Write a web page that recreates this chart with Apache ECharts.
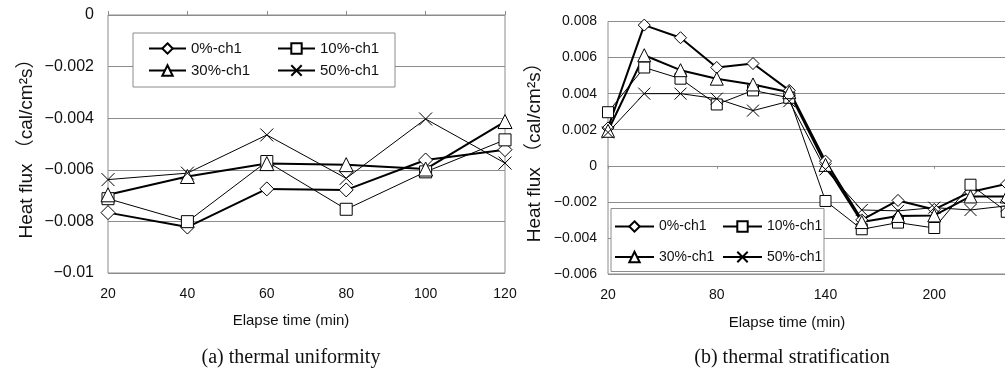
<!DOCTYPE html>
<html>
<head>
<meta charset="utf-8">
<script src="https://cdn.jsdelivr.net/npm/echarts@6/dist/echarts.min.js"></script>
<style>
  html, body { margin: 0; padding: 0; background: #fff; }
  #chart { width: 1005px; height: 372px; }
</style>
</head>
<body>
<div id="chart"></div>
<script>
// (a) thermal uniformity
var uniTimes = ['20', '40', '60', '80', '100', '120'];
var uni0  = [-0.00766, -0.00822, -0.00674, -0.00678, -0.00562, -0.00522];
var uni10 = [-0.00712, -0.00801, -0.00568, -0.00753, -0.00608, -0.00484];
var uni30 = [-0.00697, -0.00626, -0.00576, -0.00580, -0.00597, -0.00413];
var uni50 = [-0.00638, -0.00613, -0.00465, -0.00633, -0.00403, -0.00574];

// (b) thermal stratification (last category has no visible data)
var strTimes = ['20', '40', '60', '80', '100', '120', '140', '160', '180', '200', '220', '240', '260'];
var str0  = [0.00210, 0.00780, 0.00710, 0.00545, 0.00567, 0.00418, 0.00026, -0.00300, -0.00192, -0.00242, -0.00145, -0.00100];
var str10 = [0.00297, 0.00545, 0.00483, 0.00340, 0.00418, 0.00377, -0.00195, -0.00352, -0.00315, -0.00345, -0.00105, -0.00255];
var str30 = [0.00194, 0.00613, 0.00530, 0.00483, 0.00451, 0.00408, 0.00005, -0.00312, -0.00278, -0.00275, -0.00170, -0.00170];
var str50 = [0.00185, 0.00400, 0.00400, 0.00372, 0.00306, 0.00358, -0.00020, -0.00245, -0.00250, -0.00232, -0.00245, -0.00222];

var seriesNames = ['0%-ch1', '10%-ch1', '30%-ch1', '50%-ch1'];

var GRAY = '#8c8c8c';
var TXT = '#111';
var FONT = '"Liberation Sans", Arial, "Noto Sans CJK JP", sans-serif';
var CROSS = 'path://M0 0L10 10M10 0L0 10';

function fmtY(v) {
  if (Math.abs(v) < 1e-9) return '0';
  var s = parseFloat(Math.abs(v).toFixed(4)).toString();
  return (v < 0 ? '\u2212' : '') + s;
}

function mkSeries(name, data, gi, symbol, size, thick) {
  return {
    name: name, type: 'line', data: data,
    xAxisIndex: gi === 0 ? 0 : 1, yAxisIndex: gi,
    symbol: symbol, symbolSize: size, showAllSymbol: true,
    lineStyle: { color: '#000', width: thick ? 2 : 1 },
    itemStyle: symbol === CROSS
      ? { color: '#000', borderColor: '#000', borderWidth: 1 }
      : { color: '#fff', borderColor: '#000', borderWidth: 1 },
    emphasis: { disabled: true }
  };
}

function mkLegend(names, left, top, iw, gap, fs) {
  return {
    orient: 'vertical', left: left, top: top, padding: 0,
    itemWidth: iw, itemHeight: 13, itemGap: gap,
    data: names, selectedMode: false, z: 6,
    textStyle: { color: TXT, fontSize: fs, fontFamily: FONT, lineHeight: 18 }
  };
}

var chart = echarts.init(document.getElementById('chart'));
chart.setOption({
  animation: false,
  backgroundColor: '#fff',
  grid: [
    { left: 108, top: 15, width: 397, height: 258, show: true, borderColor: GRAY, borderWidth: 1,
      outerBoundsMode: 'none', containLabel: false },
    { left: 608, top: 21.5, width: 435, height: 252.5, show: true, borderColor: GRAY, borderWidth: 1,
      outerBoundsMode: 'none', containLabel: false }
  ],
  xAxis: [
    {
      gridIndex: 0, type: 'category', data: uniTimes, boundaryGap: false,
      axisLine: { show: false },
      axisTick: { show: true, inside: true, length: 4, lineStyle: { color: GRAY } },
      axisLabel: { color: TXT, fontSize: 14, fontFamily: FONT, margin: 14 },
      splitLine: { show: false },
      name: 'Elapse time (min)', nameLocation: 'middle', nameGap: 40,
      nameTextStyle: { color: TXT, fontSize: 15, fontFamily: FONT, padding: [0, 31, 0, 0] }
    },
    {
      gridIndex: 1, type: 'category', data: strTimes, boundaryGap: false,
      position: 'bottom',
      axisLine: { show: false, onZero: false },
      axisTick: { show: false },
      axisLabel: { color: TXT, fontSize: 14, fontFamily: FONT, margin: 14, interval: 2 },
      splitLine: { show: false },
      name: 'Elapse time (min)', nameLocation: 'middle', nameGap: 41,
      nameTextStyle: { color: TXT, fontSize: 15, fontFamily: FONT, padding: [0, 77, 0, 0] }
    },
    {
      gridIndex: 1, type: 'category', data: strTimes, boundaryGap: false,
      position: 'bottom',
      axisLine: { show: true, onZero: true, lineStyle: { color: GRAY } },
      axisTick: { show: true, interval: 2, length: 3, lineStyle: { color: GRAY } },
      axisLabel: { show: false },
      splitLine: { show: false }
    }
  ],
  yAxis: [
    {
      gridIndex: 0, type: 'value', min: -0.01, max: 0, interval: 0.002,
      axisLine: { show: false }, axisTick: { show: false },
      axisLabel: { color: TXT, fontSize: 16, fontFamily: FONT, margin: 14, formatter: fmtY },
      splitLine: { lineStyle: { color: GRAY, width: 1 } },
      name: 'Heat flux （cal/cm²s）', nameLocation: 'middle', nameGap: 72,
      nameTextStyle: { color: TXT, fontSize: 19, fontFamily: FONT }
    },
    {
      gridIndex: 1, type: 'value', min: -0.006, max: 0.008, interval: 0.002,
      axisLine: { show: false }, axisTick: { show: false },
      axisLabel: { color: TXT, fontSize: 14, fontFamily: FONT, margin: 11, formatter: fmtY },
      splitLine: { lineStyle: { color: GRAY, width: 1 } },
      name: 'Heat flux （cal/cm²s）', nameLocation: 'middle', nameGap: 64,
      nameTextStyle: { color: TXT, fontSize: 19, fontFamily: FONT }
    }
  ],
  legend: [
    mkLegend([seriesNames[0], seriesNames[2]], 148, 39.5, 37, 4, 15),
    mkLegend([seriesNames[1], seriesNames[3]], 277, 39.5, 37, 4, 15),
    mkLegend([seriesNames[0], seriesNames[2]], 614, 217.5, 39, 12.5, 14),
    mkLegend([seriesNames[1], seriesNames[3]], 722, 217.5, 39, 12.5, 14)
  ],
  graphic: [
    { type: 'rect', z: 5, shape: { x: 133, y: 33, width: 262, height: 54 },
      style: { fill: '#fff', stroke: GRAY, lineWidth: 1 } },
    { type: 'rect', z: 5, shape: { x: 611, y: 208.5, width: 213, height: 63 },
      style: { fill: '#fff', stroke: GRAY, lineWidth: 1 } },
    { type: 'text', x: 291, y: 358,
      style: { text: '(a) thermal uniformity', fill: TXT, font: '20px "Liberation Serif", "Times New Roman", serif', align: 'center', verticalAlign: 'middle' } },
    { type: 'text', x: 792, y: 358,
      style: { text: '(b) thermal stratification', fill: TXT, font: '20px "Liberation Serif", "Times New Roman", serif', align: 'center', verticalAlign: 'middle' } }
  ],
  series: [
    mkSeries(seriesNames[0], uni0, 0, 'diamond', 14, true),
    mkSeries(seriesNames[1], uni10, 0, 'rect', 12, false),
    mkSeries(seriesNames[2], uni30, 0, 'triangle', 14, true),
    mkSeries(seriesNames[3], uni50, 0, CROSS, 13, false),
    mkSeries(seriesNames[0], str0, 1, 'diamond', 12, true),
    mkSeries(seriesNames[1], str10, 1, 'rect', 11, false),
    mkSeries(seriesNames[2], str30, 1, 'triangle', 13, true),
    mkSeries(seriesNames[3], str50, 1, CROSS, 12, false)
  ]
});
</script>
</body>
</html>
